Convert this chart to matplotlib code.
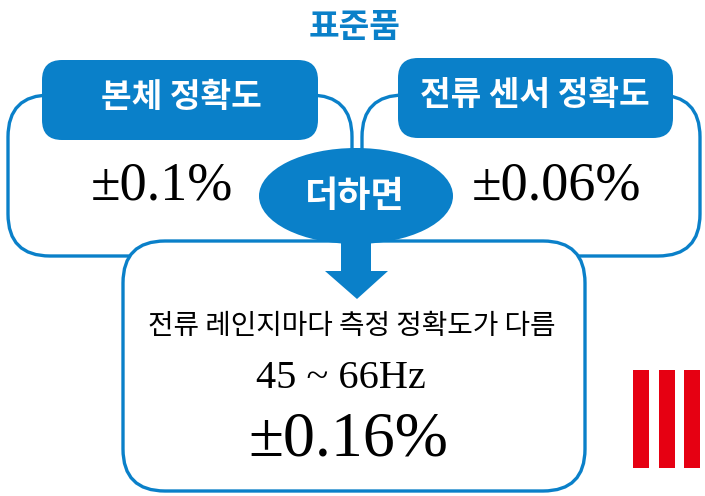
import matplotlib
matplotlib.use("Agg")
import matplotlib.pyplot as plt
from matplotlib.patches import FancyBboxPatch, Ellipse, Polygon, Rectangle

# texts of the diagram
title = "표준품"
headers = ["본체 정확도", "전류 센서 정확도"]
values = ["±0.1%", "±0.06%"]
join_label = "더하면"
note = "전류 레인지마다 측정 정확도가 다름"
freq_range = "45 ~ 66Hz"
total = "±0.16%"

blue = "#0a80c9"
red = "#e60012"
kr = ["Noto Sans CJK KR", "DejaVu Sans"]
serif = "Liberation Serif"

fig = plt.figure(figsize=(7.05, 4.96), dpi=100)
ax = fig.add_axes([0, 0, 1, 1])
ax.set_xlim(0, 705)
ax.set_ylim(496, 0)
ax.axis("off")


def rbox(x0, y0, x1, y1, r, **kw):
    p = FancyBboxPatch((x0, y0), x1 - x0, y1 - y0,
                       boxstyle=f"round,pad=0,rounding_size={r}", **kw)
    ax.add_patch(p)


# outline boxes behind the headers
rbox(8, 95, 352, 256, 42, fc="white", ec=blue, lw=2.4, zorder=1)
rbox(362, 95, 700, 256, 42, fc="white", ec=blue, lw=2.4, zorder=1)

# blue headers
rbox(42, 60, 318, 140, 20, fc=blue, ec="none", zorder=2)
rbox(398, 58, 673, 138, 20, fc=blue, ec="none", zorder=2)
ax.text(181, 98, headers[0], color="white", fontsize=24, fontweight="bold",
        family=kr, ha="center", va="center", zorder=3)
ax.text(535, 96, headers[1], color="white", fontsize=24, fontweight="bold",
        family=kr, ha="center", va="center", zorder=3)

ax.text(355, 27, title, color=blue, fontsize=24, fontweight="bold",
        family=kr, ha="center", va="center")

ax.text(162, 186, values[0], fontsize=39, family=serif,
        ha="center", va="center", zorder=3)
ax.text(556, 186, values[1], fontsize=39, family=serif,
        ha="center", va="center", zorder=3)

# result box
rbox(123, 241, 585, 491, 42, fc="white", ec=blue, lw=2.4, zorder=4)

# ellipse and arrow
ax.add_patch(Ellipse((356, 196), 194, 96, fc=blue, ec="none", zorder=5))
ax.add_patch(Rectangle((341, 230), 30, 42, fc=blue, ec="none", zorder=5))
ax.add_patch(Polygon([(325, 271), (388, 271), (357, 299)], closed=True,
                     fc=blue, ec="none", zorder=5))
ax.text(355, 197, join_label, color="white", fontsize=26, fontweight="bold",
        family=kr, ha="center", va="center", zorder=6)

ax.text(352, 326, note, fontsize=20, family=kr,
        ha="center", va="center", zorder=6)
ax.text(341, 379, freq_range, fontsize=29, family=serif,
        ha="center", va="center", zorder=6)
ax.text(348, 440, total, fontsize=46, family=serif,
        ha="center", va="center", zorder=6)

# red bars
for x in [633, 659, 684]:
    ax.add_patch(Rectangle((x, 370), 16, 98, fc=red, ec="none"))

fig.savefig("out.png", dpi=100)
